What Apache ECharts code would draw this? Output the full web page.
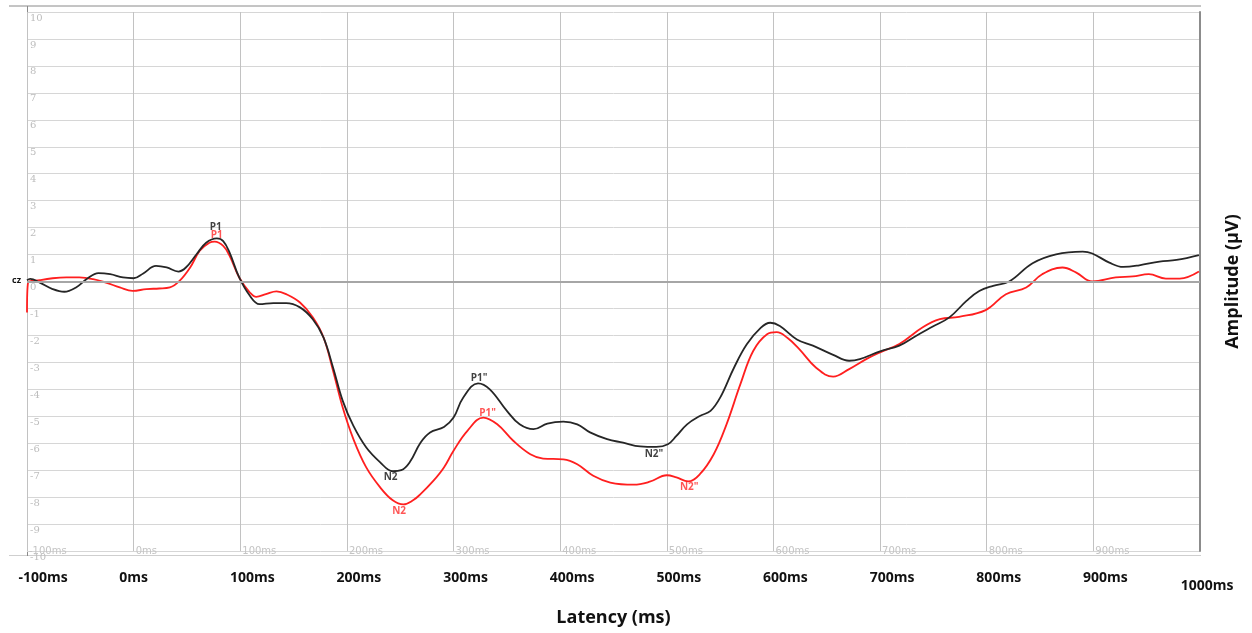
<!DOCTYPE html>
<html>
<head>
<meta charset="utf-8">
<script src="https://cdn.jsdelivr.net/npm/echarts@6/dist/echarts.min.js"></script>
<style>
html,body{margin:0;padding:0;background:#fff;}
#chart{width:1252px;height:633px;}
</style>
</head>
<body>
<div id="chart"></div>
<script>
// Latency (ms) and amplitude (µV)
var blackMs = [-100,-97,-88,-76,-65,-54,-44,-33,-22,-10,0,9,21,31,42,49,59,68,78,84,90,99,109,118,131,143,156,168,178,187,196,206,218,231,243,251,259,269,278,291,300,309,323,334,350,362,375,388,403,416,428,444,459,475,490,501,509,519,531,541,550,563,575,588,597,606,622,637,656,671,681,700,718,734,749,765,781,793,806,821,843,865,890,899,915,928,943,962,978,999];
var blackUv = [0.05,0.10,-0.04,-0.28,-0.38,-0.22,0.09,0.31,0.27,0.15,0.12,0.30,0.58,0.52,0.37,0.52,1.01,1.44,1.60,1.50,1.07,0.15,-0.53,-0.84,-0.80,-0.80,-0.96,-1.40,-2.07,-3.19,-4.42,-5.35,-6.15,-6.70,-7.04,-7.00,-6.70,-5.98,-5.60,-5.40,-5.05,-4.31,-3.78,-4.00,-4.80,-5.30,-5.48,-5.27,-5.20,-5.30,-5.60,-5.85,-5.98,-6.12,-6.14,-6.04,-5.73,-5.30,-4.99,-4.80,-4.31,-3.20,-2.33,-1.72,-1.53,-1.65,-2.15,-2.38,-2.72,-2.94,-2.88,-2.59,-2.38,-2.01,-1.68,-1.33,-0.72,-0.35,-0.16,0.00,0.68,1.01,1.11,1.04,0.70,0.54,0.60,0.74,0.80,0.98];

var redMs = [-100,-99,-88,-76,-63,-51,-38,-26,-13,-1,12,24,34,43,53,62,71,76,84,90,99,109,115,124,134,143,156,168,178,187,196,206,218,231,243,253,262,269,281,291,300,313,328,341,356,372,384,403,416,431,447,469,484,500,509,520,531,544,556,569,581,594,603,613,624,640,656,671,687,700,718,740,756,774,799,818,837,852,871,884,899,921,937,952,968,981,999];
var redUv = [-1.15,-0.04,0.05,0.12,0.15,0.15,0.09,-0.04,-0.22,-0.35,-0.28,-0.26,-0.22,0.02,0.52,1.14,1.44,1.48,1.32,0.95,0.15,-0.41,-0.57,-0.47,-0.37,-0.47,-0.78,-1.33,-2.07,-3.31,-4.67,-5.84,-6.89,-7.63,-8.12,-8.27,-8.12,-7.89,-7.40,-6.90,-6.28,-5.54,-5.05,-5.30,-5.91,-6.41,-6.57,-6.60,-6.78,-7.21,-7.46,-7.54,-7.43,-7.19,-7.27,-7.42,-7.15,-6.41,-5.30,-3.81,-2.58,-1.96,-1.88,-2.09,-2.50,-3.20,-3.53,-3.25,-2.88,-2.63,-2.32,-1.70,-1.40,-1.31,-1.06,-0.47,-0.22,0.27,0.52,0.33,0.00,0.15,0.19,0.27,0.11,0.11,0.37];

// Peak annotations: [ms, µV, text]
var blackPeaks = [[77,2.0,'P1'],[241,-7.27,'N2'],[324,-3.57,'P1"'],[488,-6.42,'N2"']];
var redPeaks = [[78,1.72,'P1'],[249,-8.53,'N2'],[332,-4.90,'P1"'],[521,-7.64,'N2"']];

function zip(a,b){ return a.map(function(v,i){ return [v,b[i]]; }); }

var chart = echarts.init(document.getElementById('chart'));
var boldFont = '"Open Sans", sans-serif';
chart.setOption({
  animation:false,
  backgroundColor:'#fff',
  grid:{left:27,right:52,top:12,bottom:82},
  xAxis:[{
    type:'value',min:-100,max:1000,interval:100,
    axisLine:{show:false},axisTick:{show:false},
    splitLine:{show:true,lineStyle:{color:'#c2c2c2',width:1}},
    axisLabel:{inside:true,margin:0,align:'left',verticalAlign:'middle',color:'#c4c4c4',fontSize:10,
      fontFamily:'"DejaVu Sans", sans-serif',showMaxLabel:false,padding:[0,0,0,2],
      formatter:function(v){return v+'ms';}}
  },{
    type:'value',min:-100,max:1000,interval:100,position:'bottom',
    axisLine:{show:false},axisTick:{show:false},splitLine:{show:false},
    name:'Latency (ms)',nameLocation:'middle',nameGap:58,
    nameTextStyle:{fontFamily:boldFont,fontWeight:'bold',fontSize:18,color:'#111'},
    axisLabel:{margin:20,fontFamily:boldFont,fontWeight:'bold',fontSize:14,color:'#111',
      showMinLabel:true,showMaxLabel:true,
      formatter:function(v){
        if(v===0) return '{z|0ms}';
        if(v===1000) return '{e|1000ms}';
        if(v===-100) return '{s|-100ms}';
        return '{a|'+v+'ms}';
      },
      rich:{
        a:{fontFamily:boldFont,fontWeight:'bold',fontSize:14,color:'#111',padding:[0,0,0,24]},
        z:{fontFamily:boldFont,fontWeight:'bold',fontSize:14,color:'#111'},
        s:{fontFamily:boldFont,fontWeight:'bold',fontSize:14,color:'#111',padding:[0,0,0,32]},
        e:{fontFamily:boldFont,fontWeight:'bold',fontSize:14,color:'#111',padding:[8,0,0,14]}
      }}
  }],
  yAxis:[{
    type:'value',min:-10,max:10,interval:1,
    axisLine:{show:false,onZero:false},axisTick:{show:false},
    splitLine:{show:true,lineStyle:{color:'#d6d6d6',width:1}},
    axisLabel:{inside:true,margin:3,align:'left',verticalAlign:'top',color:'#bdbdbd',fontSize:10,
      fontFamily:'"DejaVu Serif", serif',padding:[1,0,0,0]}
  },{
    type:'value',min:-10,max:10,interval:1,position:'right',
    axisLine:{show:true,onZero:false,lineStyle:{color:'#8c8c8c',width:2}},axisTick:{show:false},
    splitLine:{show:false},axisLabel:{show:false},
    name:'Amplitude (µV)',nameLocation:'middle',nameGap:24,nameRotate:90,
    nameTextStyle:{fontFamily:boldFont,fontWeight:'bold',fontSize:18,color:'#111'}
  }],
  series:[{
    type:'line',name:'red',data:zip(redMs,redUv),smooth:0.4,showSymbol:false,
    lineStyle:{color:'#ff1f1f',width:1.8},itemStyle:{color:'#ff1f1f'},z:3,
    markLine:{silent:true,symbol:'none',label:{show:false},
      lineStyle:{color:'#a6a6a6',width:2,type:'solid'},data:[{yAxis:0}]}
  },{
    type:'line',name:'black',data:zip(blackMs,blackUv),smooth:0.4,showSymbol:false,
    lineStyle:{color:'#262626',width:1.8},itemStyle:{color:'#262626'},z:4
  },{
    type:'scatter',data:blackPeaks,symbolSize:0,z:5,
    label:{show:true,position:'inside',color:'#111',fontFamily:boldFont,fontWeight:'bold',fontSize:10,
      formatter:function(p){return p.data[2];}}
  },{
    type:'scatter',data:redPeaks,symbolSize:0,z:5,
    label:{show:true,position:'inside',color:'#ff2a2a',fontFamily:boldFont,fontWeight:'bold',fontSize:10,
      formatter:function(p){return p.data[2];}}
  }],
  graphic:[
    {type:'line',shape:{x1:9,y1:6,x2:1201,y2:6},style:{stroke:'#8a8a8a',lineWidth:1},silent:true},
    {type:'line',shape:{x1:9,y1:555.5,x2:1201,y2:555.5},style:{stroke:'#cfcfcf',lineWidth:1},silent:true},
    {type:'line',shape:{x1:27.5,y1:6,x2:27.5,y2:556},style:{stroke:'#8a8a8a',lineWidth:1},silent:true},
    {type:'text',left:12,top:276,style:{text:'cz',font:'bold 9px "Open Sans", sans-serif',fill:'#111'}}
  ]
});
</script>
</body>
</html>
